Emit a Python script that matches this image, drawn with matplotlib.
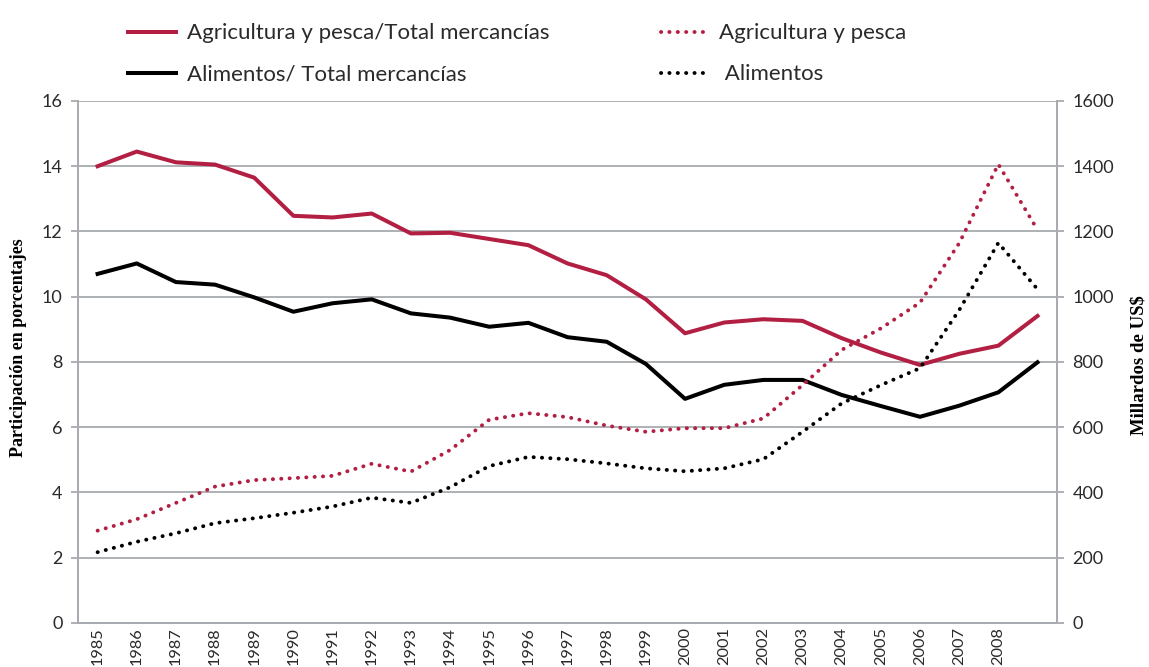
import matplotlib
matplotlib.use("Agg")
import matplotlib.pyplot as plt

plt.rcParams['font.family'] = ['Lato', 'DejaVu Sans']

# Data
years = ['1985', '1986', '1987', '1988', '1989', '1990', '1991', '1992', '1993',
         '1994', '1995', '1996', '1997', '1998', '1999', '2000', '2001', '2002',
         '2003', '2004', '2005', '2006', '2007', '2008', '2009']
year_labels = years[:-1] + ['']

# shares of total merchandise exports (%), left axis
agri_share = [14.0, 14.45, 14.12, 14.05, 13.65, 12.48, 12.43, 12.55, 11.94, 11.96,
              11.77, 11.58, 11.02, 10.66, 9.92, 8.88, 9.21, 9.31, 9.26, 8.73,
              8.29, 7.91, 8.25, 8.50, 9.41]
food_share = [10.70, 11.02, 10.45, 10.37, 9.98, 9.54, 9.80, 9.92, 9.49, 9.36,
              9.08, 9.20, 8.76, 8.62, 7.94, 6.87, 7.30, 7.45, 7.45, 6.99,
              6.65, 6.32, 6.66, 7.07, 7.99]

# values in billions of US$, right axis
agri_value = [283, 318, 368, 418, 438, 444, 451, 488, 464, 530,
              623, 643, 631, 605, 586, 597, 597, 627, 729, 837,
              903, 982, 1164, 1406, 1205]
food_value = [217, 249, 275, 306, 321, 338, 357, 384, 368, 416,
              481, 509, 502, 489, 474, 465, 474, 502, 586, 673,
              729, 781, 959, 1165, 1023]

red = '#B21F43'
grid_col = '#A8ABAF'
txt_col = '#2A2A2A'
x = list(range(len(years)))

fig = plt.figure(figsize=(11.49, 6.67), dpi=100)
ax = fig.add_axes([0.0679, 0.066, 0.8521, 0.7826])
ax2 = ax.twinx()

l1, = ax.plot(x, agri_share, color=red, lw=2.9, solid_joinstyle='round',
              label='Agricultura y pesca/Total mercancías')
l2, = ax.plot(x, food_share, color='black', lw=2.9, solid_joinstyle='round',
              label='Alimentos/ Total mercancías')
dots = (0, (0.05, 2.1))
l3, = ax2.plot(x, agri_value, color=red, lw=2.8, ls=dots, dash_capstyle='round',
               label='Agricultura y pesca')
l4, = ax2.plot(x, food_value, color='black', lw=2.8, ls=dots, dash_capstyle='round',
               label=' Alimentos')

ax.set_xlim(-0.5, len(years) - 0.5)
ax.set_ylim(0, 16)
ax.set_yticks(range(0, 17, 2))
ax2.set_ylim(0, 1600)
ax2.set_yticks(range(0, 1601, 200))
ax.set_xticks(x)
ax.set_xticklabels(year_labels, rotation=90)

ax.yaxis.grid(True, color=grid_col, lw=1.3)
ax.set_axisbelow(True)
for a in (ax, ax2):
    a.spines['top'].set_visible(False)
    for side in ('left', 'right', 'bottom'):
        a.spines[side].set_color(grid_col)
        a.spines[side].set_linewidth(1.3)
ax.tick_params(axis='x', length=0, labelsize=11.8, pad=3, colors=txt_col)
ax.tick_params(axis='y', length=5, width=1.3, color=grid_col, labelsize=13,
               labelcolor=txt_col, pad=6)
ax2.tick_params(axis='y', length=5, width=1.3, color=grid_col, labelsize=13,
                labelcolor=txt_col, pad=6)

serif = ['Liberation Serif', 'DejaVu Serif']
ax.set_ylabel('Participación en porcentajes', family=serif, fontweight='bold',
              fontsize=13)
ax.yaxis.set_label_coords(-0.052, 0.527)
ax2.set_ylabel('Millardos de US$', family=serif, fontweight='bold',
               fontsize=13.5, rotation=90)
ax2.yaxis.set_label_coords(1.0745, 0.494)

fig.legend(handles=[l1, l2, l3, l4], ncol=2, loc='upper left',
           bbox_to_anchor=(0.094, 0.995), frameon=False, fontsize=16,
           handlelength=2.15, handletextpad=0.5, columnspacing=5.0,
           labelspacing=0.95, labelcolor=txt_col)

fig.savefig('out.png', dpi=100)
